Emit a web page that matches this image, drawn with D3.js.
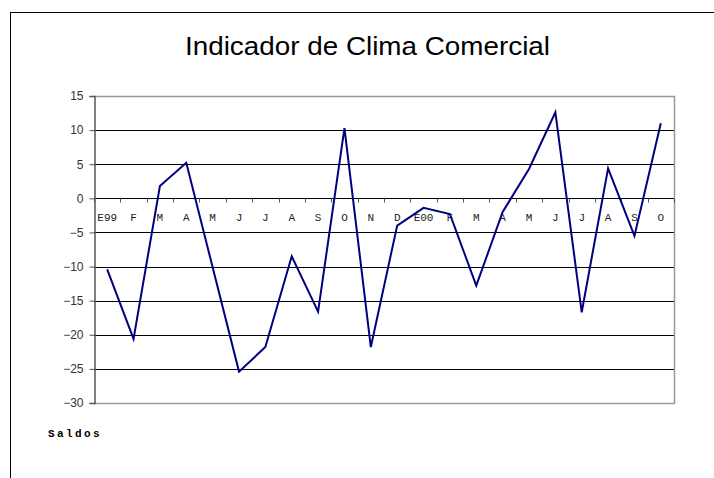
<!DOCTYPE html>
<html>
<head>
<meta charset="utf-8">
<script src="https://cdn.jsdelivr.net/npm/d3@7"></script>
<style>
  body { margin: 0; background: #fff; }
  svg { display: block; }
</style>
</head>
<body>
<script>
// monthly labels, Jan 1999 .. Oct 2000
var months = ["E99", "F", "M", "A", "M", "J", "J", "A", "S", "O", "N", "D",
  "E00", "F", "M", "A", "M", "J", "J", "A", "S", "O"];
// saldos
var saldos = [-10.4, -20.6, 1.8, 5.2, -10.1, -25.4, -21.8, -8.5, -16.6, 10.3, -21.8, -4.0,
  -1.4, -2.3, -12.8, -2.0, 4.3, 12.6, -16.7, 4.4, -5.5, 11.0];
var yTicks = [-30, -25, -20, -15, -10, -5, 0, 5, 10, 15];

var width = 714, height = 478;
var plot = { left: 94, right: 674, top: 96, bottom: 403 };

var svg = d3.select("body").append("svg")
  .attr("width", width)
  .attr("height", height);

// outer chart frame (runs off the page right/bottom)
svg.append("rect")
  .attr("x", 10.5).attr("y", 12.5)
  .attr("width", 760).attr("height", 520)
  .attr("fill", "none")
  .attr("stroke", "#000")
  .attr("stroke-width", 1);

svg.append("text")
  .attr("x", 185).attr("y", 55)
  .attr("textLength", 365)
  .attr("lengthAdjust", "spacingAndGlyphs")
  .style("font-family", "Liberation Sans, Arial, sans-serif")
  .style("font-size", "25px")
  .text("Indicador de Clima Comercial");

var xScale = d3.scaleBand()
  .domain(d3.range(months.length))
  .range([plot.left, plot.right]);

var yScale = d3.scaleLinear()
  .domain([-30, 15])
  .range([plot.bottom, plot.top]);

// gridlines
svg.append("g")
  .selectAll("line")
  .data(yTicks.filter(function (t) { return t > -30 && t < 15; }))
  .enter()
  .append("line")
  .attr("x1", plot.left).attr("x2", plot.right)
  .attr("y1", function (d) { return Math.round(yScale(d)) + 0.5; })
  .attr("y2", function (d) { return Math.round(yScale(d)) + 0.5; })
  .attr("stroke", "#000")
  .attr("stroke-width", 1);

// plot area border, top/right/bottom gray
svg.append("path")
  .attr("d", "M" + plot.left + "," + (plot.top + 0.5) +
    "H" + (plot.right + 0.5) + "V" + (plot.bottom + 0.5) + "H" + plot.left)
  .attr("fill", "none")
  .attr("stroke", "#999")
  .attr("stroke-width", 1.5);

// y axis
var yAxis = d3.axisLeft(yScale)
  .tickValues(yTicks)
  .tickSize(5)
  .tickPadding(6)
  .tickFormat(function (d) { return d < 0 ? "\u2212" + Math.abs(d) : d; });

var gy = svg.append("g")
  .attr("transform", "translate(" + (plot.left + 0.5) + ",0)")
  .call(yAxis);
gy.select(".domain").attr("stroke", "#555").attr("stroke-width", 1.5);
gy.selectAll(".tick line").attr("stroke", "#555");
gy.selectAll(".tick text")
  .attr("fill", "#333")
  .style("font-family", "Liberation Sans, Arial, sans-serif")
  .style("font-size", "12px");

// category axis on the zero line
var xAxis = d3.axisBottom(xScale)
  .tickSize(0)
  .tickPadding(15)
  .tickFormat(function (i) { return months[i]; });

var gx = svg.append("g")
  .attr("transform", "translate(0," + (Math.round(yScale(0)) + 0.5) + ")")
  .call(xAxis);
gx.select(".domain").remove();
gx.selectAll(".tick text")
  .attr("fill", "#222")
  .style("font-family", "Liberation Mono, Courier New, monospace")
  .style("font-size", "11px");

// category tick marks at band edges
gx.append("g")
  .selectAll("line")
  .data(d3.range(months.length + 1))
  .enter()
  .append("line")
  .attr("x1", function (i) { return Math.round(plot.left + i * xScale.step()) + 0.5; })
  .attr("x2", function (i) { return Math.round(plot.left + i * xScale.step()) + 0.5; })
  .attr("y1", 0).attr("y2", 4)
  .attr("stroke", "#555");

var line = d3.line()
  .x(function (d, i) { return xScale(i) + xScale.bandwidth() / 2; })
  .y(function (d) { return yScale(d); });

svg.append("path")
  .datum(saldos)
  .attr("d", line)
  .attr("fill", "none")
  .attr("stroke", "#000080")
  .attr("stroke-width", 2)
  .attr("stroke-linejoin", "miter");

svg.append("text")
  .attr("x", 48).attr("y", 437)
  .style("font-family", "Liberation Mono, Courier New, monospace")
  .style("font-weight", "bold")
  .style("font-size", "11px")
  .style("letter-spacing", "2.4px")
  .text("Saldos");
</script>
</body>
</html>
